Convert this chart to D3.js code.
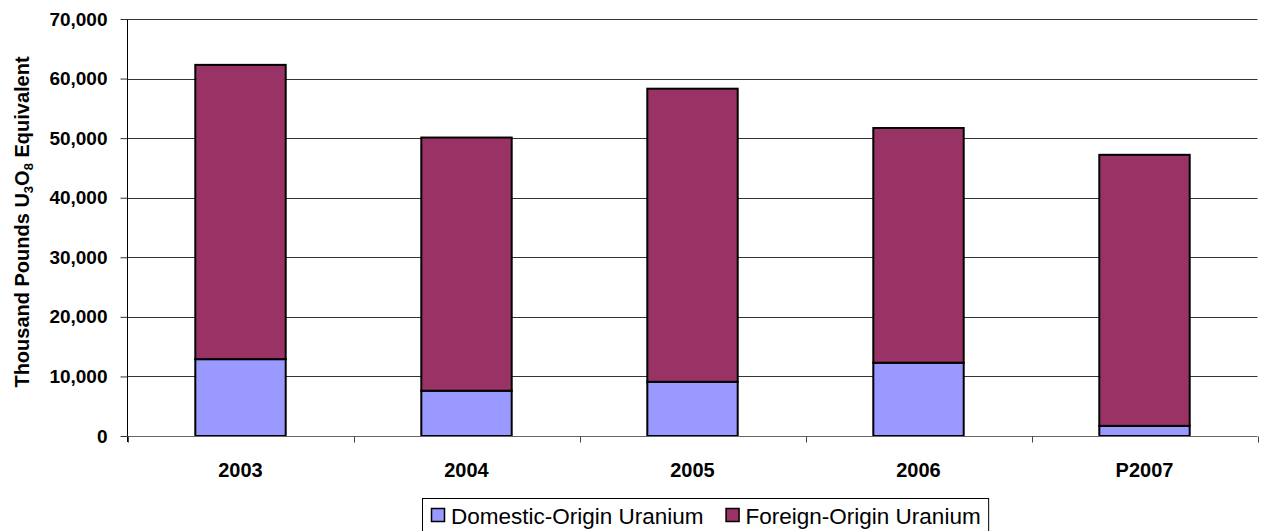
<!DOCTYPE html>
<html>
<head>
<meta charset="utf-8">
<script src="https://cdn.jsdelivr.net/npm/d3@7"></script>
<style>
  html, body { margin: 0; padding: 0; background: #fff; }
  svg { display: block; font-family: "Liberation Sans", Arial, sans-serif; }
</style>
</head>
<body>
<svg id="chart" width="1261" height="531"></svg>
<script>
const categories = ["2003", "2004", "2005", "2006", "P2007"];
const domestic = [12900, 7600, 9100, 12300, 1700];
const foreign = [49400, 42500, 49200, 39400, 45500];
const seriesNames = ["Domestic-Origin Uranium", "Foreign-Origin Uranium"];
const seriesColors = ["#9999FF", "#993366"];
const yTicks = [0, 10000, 20000, 30000, 40000, 50000, 60000, 70000];

(function () {
const svg = d3.select("#chart");
const pLeft = 127.5, pRight = 1257.5, pTop = 19, pBottom = 436;

const x = d3.scaleBand().domain(categories).range([pLeft, pRight]).paddingInner(0.6).paddingOuter(0.3);
const xb = d3.scaleBand().domain(categories).range([pLeft, pRight]);
const y = d3.scaleLinear().domain([0, 70000]).range([pBottom, pTop]);

// gridlines
svg.append("g").selectAll("line").data(yTicks.filter(d => d > 0)).join("line")
  .attr("x1", pLeft).attr("x2", pRight)
  .attr("y1", d => Math.round(y(d)) + 0.5).attr("y2", d => Math.round(y(d)) + 0.5)
  .attr("stroke", "#333").attr("stroke-width", 1);

// y axis
const yAxis = svg.append("g").attr("transform", `translate(${pLeft},0)`)
  .call(d3.axisLeft(y).tickValues(yTicks).tickFormat(d3.format(",")).tickSize(7).tickPadding(13));
yAxis.select(".domain").attr("stroke", "#000").attr("d", `M0,${pTop}V${pBottom + 6}`);
yAxis.selectAll(".tick line").attr("stroke", "#333");
yAxis.selectAll("text").attr("font-size", "19px").attr("font-weight", "bold")
  .attr("fill", "#000").attr("font-family", "Liberation Sans, Arial, sans-serif");

// stacked bars
const stackData = categories.map((c, i) => ({ cat: c, domestic: domestic[i], foreign: foreign[i] }));
const stack = d3.stack().keys(["domestic", "foreign"])(stackData);
svg.append("g").selectAll("g").data(stack).join("g")
  .attr("fill", (d, i) => seriesColors[i])
  .selectAll("rect").data(d => d).join("rect")
  .attr("x", d => x(d.data.cat))
  .attr("width", x.bandwidth())
  .attr("y", d => y(d[1]))
  .attr("height", d => y(d[0]) - y(d[1]))
  .attr("stroke", "#000").attr("stroke-width", 2);

// x axis
const xAxis = svg.append("g").attr("transform", `translate(0,${pBottom + 0.5})`);
xAxis.append("line").attr("x1", pLeft).attr("x2", pRight).attr("stroke", "#666").attr("stroke-width", 1.2);
const bounds = categories.map(c => xb(c)).concat([pRight]);
xAxis.selectAll("line.t").data(bounds).join("line").attr("class", "t")
  .attr("x1", d => Math.round(d) + 0.5).attr("x2", d => Math.round(d) + 0.5)
  .attr("y1", 0).attr("y2", 6).attr("stroke", "#444");
xAxis.selectAll("text").data(categories).join("text")
  .attr("x", d => xb(d) + xb.bandwidth() / 2).attr("y", 40)
  .attr("text-anchor", "middle").attr("font-size", "20px").attr("font-weight", "bold")
  .text(d => d);

// y axis title
const yt = svg.append("text").attr("transform", `translate(28.5,222) rotate(-90)`)
  .attr("text-anchor", "middle").attr("font-size", "20px").attr("font-weight", "bold");
yt.append("tspan").text("Thousand Pounds U");
yt.append("tspan").attr("font-size", "13px").attr("dy", 4).text("3");
yt.append("tspan").attr("dy", -4).text("O");
yt.append("tspan").attr("font-size", "13px").attr("dy", 4).text("8");
yt.append("tspan").attr("dy", -4).text(" Equivalent");

// legend
const lg = svg.append("g");
const lbox = lg.append("rect").attr("x", 422.5).attr("y", 498.5).attr("height", 40)
  .attr("fill", "#fff").attr("stroke", "#000").attr("stroke-width", 1);
let lx = 431;
seriesNames.forEach((name, i) => {
  lg.append("rect").attr("x", lx + 0.5).attr("y", 508.5).attr("width", 13).attr("height", 13)
    .attr("fill", seriesColors[i]).attr("stroke", "#000").attr("stroke-width", 1.5);
  const t = lg.append("text").attr("x", lx + 20).attr("y", 524).attr("font-size", "22.5px").text(name);
  lx = lx + 20 + t.node().getComputedTextLength() + 22;
});
lbox.attr("width", lx - 22 + 8 - 422.5);
})();
</script>
</body>
</html>
